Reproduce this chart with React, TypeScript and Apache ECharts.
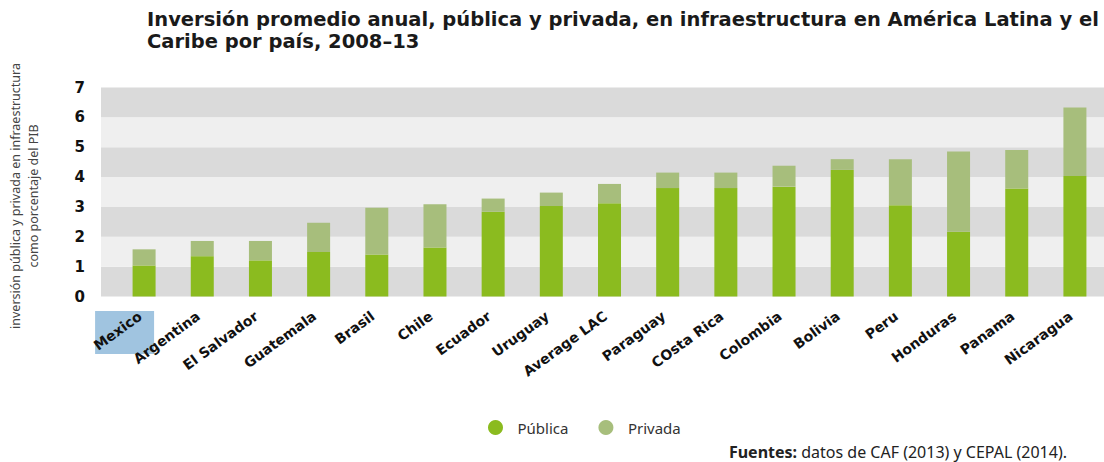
import React, { useEffect, useRef } from "react";
import * as echarts from "echarts";

const categories = [
  "Mexico", "Argentina", "El Salvador", "Guatemala", "Brasil", "Chile", "Ecuador", "Uruguay",
  "Average LAC", "Paraguay", "COsta Rica", "Colombia", "Bolivia", "Peru", "Honduras", "Panama", "Nicaragua",
];
const publica = [1.04, 1.35, 1.21, 1.49, 1.41, 1.64, 2.84, 3.03, 3.12, 3.63, 3.63, 3.68, 4.24, 3.06, 2.17, 3.62, 4.04];
const privada = [0.54, 0.51, 0.65, 0.98, 1.56, 1.45, 0.44, 0.45, 0.65, 0.52, 0.52, 0.70, 0.36, 1.54, 2.69, 1.29, 2.29];
const yTicks = [0, 1, 2, 3, 4, 5, 6, 7];

const TITLE = "Inversión promedio anual, pública y privada, en infraestructura en América Latina y el\nCaribe por país, 2008–13";
const Y_NAME = "inversión pública y privada en infraestructura\ncomo porcentaje del PIB";
const SOURCE = "{b|Fuentes:} datos de CAF (2013) y CEPAL (2014).";
const HIGHLIGHT = "Mexico";

const GREEN = "#8bbb1f";
const OLIVE = "#a7be7c";

export default function App() {
  const ref = useRef<HTMLDivElement>(null);
  useEffect(() => {
    document.body.style.margin = "0";
    const chart = echarts.init(ref.current!, undefined, { renderer: "svg" });
    const top = 87.5;
    const height = 209;
    chart.setOption({
      animation: false,
      backgroundColor: "#ffffff",
      title: {
        text: TITLE,
        left: 142,
        top: 3,
        textStyle: { fontFamily: "DejaVu Sans", fontWeight: "bold", fontSize: 19.5, lineHeight: 22, color: "#1a1a1a" },
      },
      legend: {
        data: ["Pública", "Privada"],
        left: 483,
        top: 415,
        icon: "circle",
        itemWidth: 18,
        itemHeight: 15,
        itemGap: 30,
        textStyle: { fontFamily: "Noto Sans", fontSize: 15, color: "#333", padding: [0, 0, 0, 8] },
      },
      grid: [
        { left: 101, right: 0, top, height },
        { left: 115, width: 991, top, height },
      ],
      xAxis: [
        { type: "value", gridIndex: 0, min: 0, max: 1, show: false },
        {
          type: "category",
          gridIndex: 1,
          data: categories,
          z: 5,
          axisLine: { show: false },
          axisTick: { show: false },
          axisLabel: {
            rotate: 36,
            margin: 15,
            interval: 0,
            padding: [0, 5, 0, 0],
            fontFamily: "DejaVu Sans",
            fontWeight: "bold",
            fontSize: 14,
            color: "#111",
          },
        },
      ],
      yAxis: [
        {
          type: "value",
          gridIndex: 0,
          min: yTicks[0],
          max: yTicks[yTicks.length - 1],
          interval: 1,
          axisLine: { show: false },
          axisTick: { show: false },
          splitLine: { show: false },
          splitArea: { show: true, areaStyle: { color: ["#dadada", "#efefef"] } },
          axisLabel: { margin: 16, fontFamily: "DejaVu Sans", fontWeight: "bold", fontSize: 15, color: "#111" },
        },
        {
          type: "value",
          gridIndex: 1,
          min: yTicks[0],
          max: yTicks[yTicks.length - 1],
          interval: 1,
          show: false,
          splitLine: { show: false },
        },
      ],
      series: [
        {
          name: "Pública",
          type: "bar",
          stack: "t",
          xAxisIndex: 1,
          yAxisIndex: 1,
          barWidth: 23,
          data: publica,
          itemStyle: { color: GREEN },
        },
        {
          name: "Privada",
          type: "bar",
          stack: "t",
          xAxisIndex: 1,
          yAxisIndex: 1,
          barWidth: 23,
          data: privada,
          itemStyle: { color: OLIVE },
        },
      ],
    });
    const cx = chart.convertToPixel({ xAxisIndex: 1 } as any, HIGHLIGHT) as number;
    chart.setOption({
      graphic: [
        {
          type: "rect",
          z: -10,
          shape: { x: cx - 49, y: 311, width: 59, height: 43 },
          style: { fill: "#a0c4e0" },
        },
        {
          type: "text",
          x: 24,
          y: 196,
          rotation: Math.PI / 2,
          style: {
            text: Y_NAME,
            align: "center",
            verticalAlign: "middle",
            lineHeight: 18,
            fontFamily: "Noto Sans",
            fontSize: 12.5,
            fill: "#444",
          },
        },
        {
          type: "text",
          right: 37,
          top: 444,
          style: {
            text: SOURCE,
            fontFamily: "Noto Sans",
            fontSize: 16,
            fill: "#222",
            rich: { b: { fontWeight: "bold", fontFamily: "Noto Sans", fontSize: 16, fill: "#222" } },
          },
        },
      ],
    });
    return () => chart.dispose();
  }, []);
  return <div ref={ref} style={{ width: 1104, height: 462 }} />;
}
